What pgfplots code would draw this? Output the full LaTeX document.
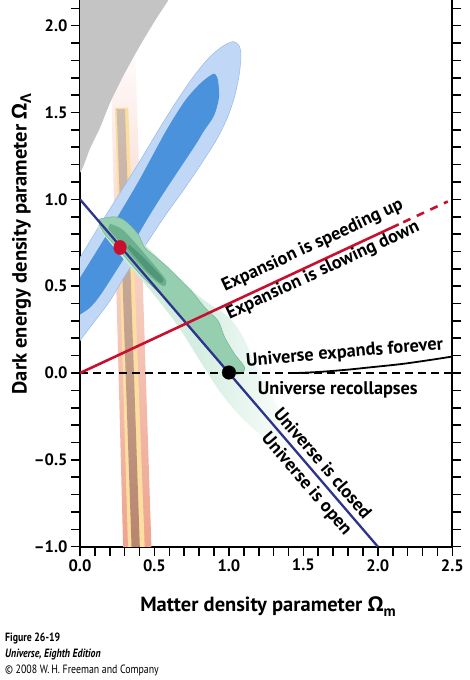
\documentclass[border=0pt]{standalone}
\usepackage{fontspec}
\setmainfont{PT Sans}
\newfontfamily\grk{Open Sans}
\newfontfamily\capfont{PT Sans}[FakeStretch=0.82]
\usepackage{pgfplots}
\pgfplotsset{compat=1.18}
\definecolor{lblue}{RGB}{192,216,245}
\definecolor{dblue}{RGB}{74,146,220}
\definecolor{bedge}{RGB}{150,185,230}
\definecolor{gray1}{RGB}{196,196,196}
\definecolor{salmon}{RGB}{238,162,140}
\definecolor{ylw}{RGB}{252,222,160}
\definecolor{brwn}{RGB}{184,132,108}
\definecolor{brwntop}{RGB}{205,190,178}
\definecolor{lgreen}{RGB}{206,235,220}
\definecolor{mgreen}{RGB}{150,206,176}
\definecolor{dgreen}{RGB}{108,176,142}
\definecolor{ddgreen}{RGB}{80,150,120}
\definecolor{navy}{RGB}{44,52,140}
\definecolor{myred}{RGB}{200,16,46}
\begin{document}
\begin{tikzpicture}
\useasboundingbox (0pt,0pt) rectangle (470pt,680pt);
\begin{axis}[
  at={(80pt,133.3pt)}, anchor=south west,
  scale only axis, width=372.3pt, height=546.7pt,
  xmin=0, xmax=2.5, ymin=-1, ymax=2.148,
  axis x line*=bottom, axis y line*=box,
  axis line style={line width=1.8pt, black},
  xtick={0,0.5,1,1.5,2,2.5},
  xticklabels={0.0,0.5,1.0,1.5,2.0,2.5},
  ytick={-1,-0.5,0,0.5,1,1.5,2},
  yticklabels={\textendash1.0,\textendash0.5,0.0,0.5,1.0,1.5,2.0},
  minor xtick={0.1,0.2,0.3,0.4,0.6,0.7,0.8,0.9,1.1,1.2,1.3,1.4,1.6,1.7,1.8,1.9,2.1,2.2,2.3,2.4},
  minor ytick={-0.9,-0.8,-0.7,-0.6,-0.4,-0.3,-0.2,-0.1,0.1,0.2,0.3,0.4,0.6,0.7,0.8,0.9,1.1,1.2,1.3,1.4,1.6,1.7,1.8,1.9,2.1},
  tick align=outside,
  ytick pos=both, yticklabel pos=left,
  major tick length=9pt, minor tick length=9pt,
  every tick/.style={black, line width=1.6pt},
  ticklabel style={font=\bfseries\fontsize{16.5}{18}\selectfont},
  clip=true,
]
% cluster band
\addplot[draw=none, shading=axis, top color=white, bottom color=salmon, middle color=salmon!55!white]
  coordinates {(0.291,-1.05) (0.4815,-1.05) (0.367,1.95) (0.199,1.95)} -- cycle;
\addplot[draw=none, fill=ylw] coordinates {(0.324,-1.05) (0.4365,-1.05) (0.324,1.528) (0.235,1.528)} -- cycle;
\addplot[draw=none, shading=axis, top color=brwntop, bottom color=brwn]
  coordinates {(0.348,-1.05) (0.4036,-1.05) (0.302,1.52) (0.2465,1.52)} -- cycle;
% no big bang region
\addplot[draw=none, fill=gray1, smooth] coordinates {(-0.1,1.10) (0,1.153) (0.067,1.292) (0.134,1.412) (0.208,1.568) (0.302,1.729) (0.403,1.885) (0.504,2.029) (0.591,2.144) (0.672,2.26)} -- (axis cs:-0.1,2.26) -- cycle;
% supernova ellipses
\addplot[fill=lblue, draw=bedge, line width=0.5pt, smooth] coordinates {
(-0.05,0.60) (0,0.664) (0.134,0.854) (0.269,1.038) (0.403,1.222) (0.524,1.395) (0.638,1.551) (0.752,1.695) (0.860,1.810) (0.954,1.879) (1.028,1.908) (1.068,1.885) (1.081,1.827) (1.068,1.712) (1.034,1.579) (0.981,1.453) (0.913,1.338) (0.806,1.194) (0.692,1.050) (0.571,0.906) (0.437,0.733) (0.302,0.560) (0.201,0.416) (0.101,0.301) (0,0.186) (-0.05,0.12)} -- cycle;
\addplot[fill=dblue, draw=none, smooth] coordinates {
(-0.05,0.49) (0,0.549) (0.134,0.733) (0.269,0.923) (0.403,1.119) (0.578,1.395) (0.705,1.568) (0.806,1.666) (0.873,1.712) (0.906,1.723) (0.927,1.683) (0.933,1.585) (0.900,1.482) (0.833,1.395) (0.772,1.309) (0.638,1.136) (0.537,1.004) (0.437,0.865) (0.336,0.716) (0.235,0.578) (0.134,0.445) (0.067,0.376) (0,0.336) (-0.05,0.30)} -- cycle;
% CMB contours
\addplot[draw=none, shading=axis, left color=lgreen, right color=white, middle color=lgreen!85!white, smooth] coordinates {
(0.13,0.88) (0.4,0.76) (0.6,0.6) (0.8,0.44) (1.0,0.32) (1.1,0.2) (1.19,0.02) (1.3,-0.15) (1.42,-0.33) (1.46,-0.42) (1.38,-0.45) (1.25,-0.38) (1.1,-0.27) (0.95,-0.12) (0.82,0.05) (0.65,0.28) (0.45,0.5) (0.25,0.7) (0.12,0.84)} -- cycle;
\addplot[fill=mgreen, draw=dgreen, line width=0.4pt, smooth] coordinates {
(0.132,0.887) (0.233,0.900) (0.302,0.877) (0.390,0.800) (0.435,0.723) (0.512,0.666) (0.591,0.608) (0.658,0.550) (0.747,0.474) (0.837,0.378) (0.927,0.301) (0.972,0.205) (1.039,0.109) (1.106,0.032) (1.075,-0.004) (0.994,0.0) (0.949,0.06) (0.882,0.125) (0.770,0.235) (0.658,0.34) (0.546,0.45) (0.435,0.54) (0.345,0.625) (0.255,0.715) (0.166,0.80) (0.132,0.85)} -- cycle;
\addplot[fill=dgreen, draw=none, smooth] coordinates {
(0.20,0.86) (0.28,0.83) (0.36,0.76) (0.45,0.67) (0.53,0.59) (0.58,0.53) (0.56,0.50) (0.48,0.55) (0.40,0.62) (0.32,0.70) (0.24,0.78) (0.19,0.83)} -- cycle;
\addplot[fill=ddgreen, draw=none, smooth] coordinates {
(0.33,0.74) (0.42,0.67) (0.50,0.60) (0.56,0.54) (0.54,0.52) (0.46,0.58) (0.38,0.66) (0.32,0.72)} -- cycle;
% lines
\addplot[black, line width=1.8pt, dash pattern=on 8pt off 5pt] coordinates {(0,0) (2.5,0)};
\addplot[black, line width=1.8pt, smooth] coordinates {(1.45,0) (1.6,0.006) (1.78,0.018) (1.94,0.032) (2.16,0.052) (2.35,0.075) (2.5,0.095)};
\addplot[navy, line width=2.3pt] coordinates {(0,1) (2,-1)};
\addplot[myred, line width=2.6pt] coordinates {(0,0) (2.14,0.856)};
\addplot[myred, line width=2.6pt, dash pattern=on 8pt off 7pt] coordinates {(2.17,0.868) (2.47,0.988)};
\addplot[only marks, mark=*, mark size=7.2pt, mark options={xscale=0.88, fill=myred, draw=myred}] coordinates {(0.269,0.723)};
\addplot[only marks, mark=*, mark size=6.8pt, mark options={fill=black, draw=black}] coordinates {(1.0,0.003)};
% texts
\node[rotate=25, anchor=base, inner sep=0pt, font=\bfseries\fontsize{18.3}{20}\selectfont] at (axis cs:1.575,0.708) {Expansion is speeding up};
\node[rotate=25, anchor=base, inner sep=0pt, font=\bfseries\fontsize{18.3}{20}\selectfont] at (axis cs:1.645,0.566) {Expansion is slowing down};
\node[rotate=4.8, anchor=base, inner sep=0pt, font=\bfseries\fontsize{18.3}{20}\selectfont] at (axis cs:1.78,0.088) {Universe expands forever};
\node[anchor=base, inner sep=0pt, font=\bfseries\fontsize{18.3}{20}\selectfont] at (axis cs:1.731,-0.121) {Universe recollapses};
\node[rotate=-49.4, anchor=center, inner sep=0pt, font=\bfseries\fontsize{18.3}{20}\selectfont] at (axis cs:1.632,-0.519) {Universe is closed};
\node[rotate=-49.4, anchor=center, inner sep=0pt, font=\bfseries\fontsize{18.3}{20}\selectfont] at (axis cs:1.519,-0.642) {Universe is open};
\end{axis}
% axis labels
\node[anchor=base, inner sep=0pt, font=\bfseries\fontsize{20.5}{22}\selectfont] at (268pt,68.3pt) {Matter density parameter {\grk Ω}\raisebox{-0.22em}{\fontsize{15}{15}\selectfont m}};
\node[rotate=90, anchor=base, inner sep=0pt, font=\bfseries\fontsize{20.5}{22}\selectfont] at (26.7pt,436pt) {Dark energy density parameter {\grk Ω}\raisebox{-0.22em}{\fontsize{15}{15}\selectfont\grk Λ}};
% caption
\node[anchor=base west, inner sep=0pt, font=\capfont\bfseries\fontsize{12}{12}\selectfont] at (5pt,38.3pt) {Figure 26-19};
\node[anchor=base west, inner sep=0pt, font=\capfont\bfseries\itshape\fontsize{12}{12}\selectfont] at (5pt,22.3pt) {Universe, Eighth Edition};
\node[anchor=base west, inner sep=0pt, font=\capfont\fontsize{12}{12}\selectfont] at (5pt,6pt) {© 2008 W.\,H. Freeman and Company};
\end{tikzpicture}
\end{document}
